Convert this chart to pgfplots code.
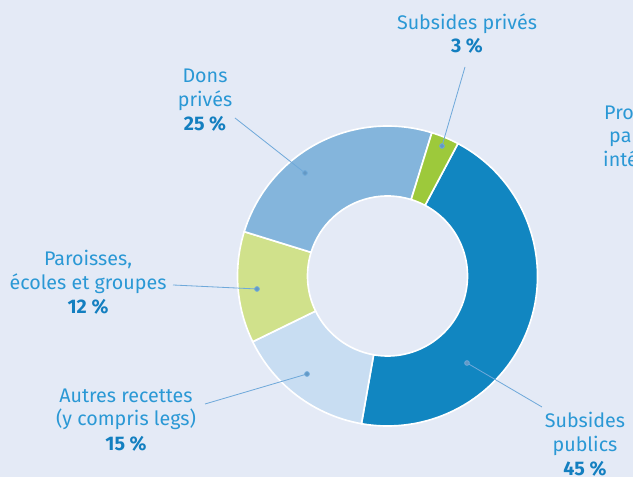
\documentclass[border=0pt]{standalone}
\usepackage{pgfplots}
\pgfplotsset{compat=1.18}
\usepackage{fontspec}
\setmainfont{Fira Sans}
\definecolor{bg}{HTML}{E4EAF6}
\definecolor{cPub}{HTML}{1186C1}
\definecolor{cAut}{HTML}{C8DDF2}
\definecolor{cPar}{HTML}{D0E18B}
\definecolor{cDon}{HTML}{84B5DC}
\definecolor{cPri}{HTML}{9DC93B}
\definecolor{lbl}{HTML}{2A98D5}
\definecolor{pct}{HTML}{137FC0}
\definecolor{lead}{HTML}{6FA9DA}

% donut geometry (axis units = pixels of the reference)
\def\Ro{4.5cm}
\def\Ri{2.4cm}
\def\cum{62}
\newcommand\slice[2]{%
  \pgfmathsetmacro\sa{\cum}%
  \pgfmathsetmacro\sb{\cum-3.6*#1}%
  \edef\temp{\noexpand\fill[#2, draw=white, line width=1.4pt]
    ([shift={(\sa:\Ro)}]axis cs:387.5,201)
    arc[start angle=\sa, end angle=\sb, radius=\Ro]
    -- ([shift={(\sb:\Ri)}]axis cs:387.5,201)
    arc[start angle=\sb, end angle=\sa, radius=\Ri] -- cycle;}%
  \temp
  \xdef\cum{\sb}}

\tikzset{lab/.style={anchor=base, text=lbl, font=\fontsize{16.8}{20}\selectfont},
         per/.style={anchor=base, text=pct, font=\fontsize{16.8}{20}\selectfont\bfseries},
         leader/.style={lead, line width=0.7pt, mark=*, mark indices={2},
           mark options={fill=lead!90!black, draw=none, scale=1}}}

\begin{document}
\begin{tikzpicture}
\begin{axis}[hide axis, scale only axis,
  width=18.99cm, height=14.31cm,
  xmin=0, xmax=633, ymin=0, ymax=477, clip=true]
  \fill[bg] (axis cs:0,0) rectangle (axis cs:633,477);

  % shares in percent, clockwise from the top
  \slice{45}{cPub} % Subsides publics
  \slice{15}{cAut} % Autres recettes
  \slice{12}{cPar} % Paroisses, écoles et groupes
  \slice{25}{cDon} % Dons privés
  \slice{3}{cPri}  % Subsides privés

  % leader lines
  \addplot[leader] coordinates {(465,410) (442,331)};
  \addplot[leader] coordinates {(235,359) (305,304)};
  \addplot[leader] coordinates {(173,192) (257,188)};
  \addplot[leader] coordinates {(205,73) (307,103)};
  \addplot[leader] coordinates {(542,70) (467,114)};

  % labels
  \node[lab] at (axis cs:467,447.5) {Subsides privés};
  \node[per] at (axis cs:467,424) {3 \%};

  \node[lab] at (axis cs:205,394) {Dons};
  \node[lab] at (axis cs:205,370) {privés};
  \node[per] at (axis cs:205,346) {25 \%};

  \node[lab] at (axis cs:88,211) {Paroisses,};
  \node[lab] at (axis cs:88,187) {écoles et groupes};
  \node[per] at (axis cs:88,163) {12 \%};

  \node[lab] at (axis cs:126,74) {Autres recettes};
  \node[lab] at (axis cs:126,51) {(y compris legs)};
  \node[per] at (axis cs:126,26) {15 \%};

  \node[lab] at (axis cs:585,49) {Subsides};
  \node[lab] at (axis cs:585,25) {publics};
  \node[per] at (axis cs:585,1) {45 \%};

  \node[lab, anchor=base west, inner xsep=0pt] at (axis cs:604,357) {Produits};
  \node[lab, anchor=base west, inner xsep=0pt] at (axis cs:609,334) {parts};
  \node[lab, anchor=base west, inner xsep=0pt] at (axis cs:603,310) {intérêts};
\end{axis}
\pgfresetboundingbox
\useasboundingbox (current axis.south west) rectangle (current axis.north east);
\end{tikzpicture}
\end{document}
